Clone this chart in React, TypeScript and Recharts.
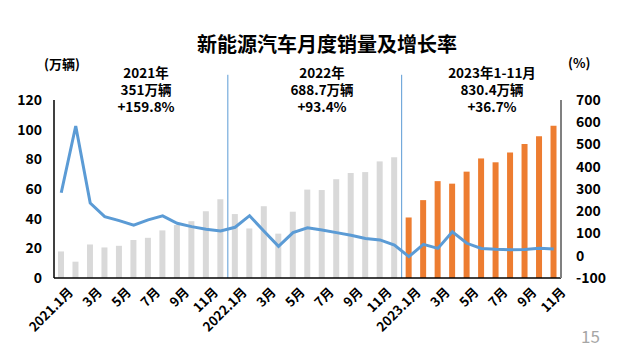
import { ComposedChart, Bar, Line, XAxis, YAxis, Cell, ReferenceLine } from "recharts";

const years = [2021, 2022, 2023];
const monthsPerYear = [12, 12, 11];

// 新能源汽车月度销量（万辆）
const sales = [
  17.9, 11.0, 22.6, 20.6, 21.7, 25.6, 27.1, 32.1, 35.7, 38.3, 45.0, 53.1,
  43.1, 33.4, 48.4, 29.9, 44.7, 59.6, 59.3, 66.6, 70.8, 71.4, 78.6, 81.4,
  40.8, 52.5, 65.3, 63.6, 71.7, 80.6, 78.0, 84.6, 90.4, 95.6, 102.6,
];

// 同比增长率（%）
const growth = [
  283, 583, 237, 176, 158, 137, 161, 179, 146, 131, 119, 111,
  128, 180, 110, 42, 104, 126, 116, 104, 92, 78, 71, 48,
  -4, 51, 33, 108, 56, 33, 29, 27, 28, 34, 30,
];

const leftTicks = [0, 20, 40, 60, 80, 100, 120];
const rightTicks = [-100, 0, 100, 200, 300, 400, 500, 600, 700];

const yearNotes = [
  { lines: ["2021年", "351万辆", "+159.8%"], center: 146 },
  { lines: ["2022年", "688.7万辆", "+93.4%"], center: 322 },
  { lines: ["2023年1-11月", "830.4万辆", "+36.7%"], center: 492 },
];

const data: any[] = [];
years.forEach((y, yi) => {
  for (let m = 1; m <= monthsPerYear[yi]; m++) {
    const i = data.length;
    data.push({
      idx: i + 0.5,
      year: y,
      label: m === 1 ? `${y}.1月` : `${m}月`,
      sales: sales[i],
      growth: growth[i],
    });
  }
});

// boundaries between years on the hidden numeric axis
const dividers = [12, 24];

const FONT = '"Noto Sans CJK SC", "Noto Sans", sans-serif';

const XTick = ({ x, y, payload }: any) => (
  <text
    x={x}
    y={y}
    transform={`rotate(-45, ${x}, ${y})`}
    textAnchor="end"
    dx={4}
    dy={14}
    fontSize={13}
    fontWeight={700}
    fill="#000"
    fontFamily={FONT}
  >
    {payload.value}
  </text>
);

export default function App() {
  return (
    <div style={{ position: "absolute", left: 0, top: 0, width: 632, height: 353, background: "#fff", fontFamily: FONT }}>
      <div style={{ position: "absolute", left: 0, top: 0 }}>
        <ComposedChart width={632} height={353} data={data} margin={{ top: 100, right: 0, bottom: 0, left: 0 }}>
          <XAxis
            dataKey="label"
            xAxisId="cat"
            interval={1}
            tick={<XTick />}
            tickLine={false}
            axisLine={{ stroke: "#000", strokeWidth: 1.5 }}
            height={75}
          />
          <XAxis dataKey="idx" xAxisId="num" type="number" domain={[0, 35]} hide allowDataOverflow />
          <YAxis
            yAxisId="left"
            domain={[0, 120]}
            ticks={leftTicks}
            width={54}
            tickLine={false}
            axisLine={{ stroke: "#000", strokeWidth: 1.5 }}
            tick={{ fill: "#000", fontSize: 14, fontWeight: 700, fontFamily: FONT }}
            tickMargin={6}
          />
          <YAxis
            yAxisId="right"
            orientation="right"
            domain={[-100, 700]}
            ticks={rightTicks}
            width={71}
            tickLine={false}
            axisLine={{ stroke: "#808080", strokeWidth: 2 }}
            tick={{ fill: "#000", fontSize: 14, fontWeight: 700, fontFamily: FONT }}
            tickMargin={9}
          />
          <Bar dataKey="sales" xAxisId="cat" yAxisId="left" barSize={6} isAnimationActive={false}>
            {data.map((d) => (
              <Cell key={d.label + d.idx} fill={d.year === 2023 ? "#ed7d31" : "#d9d9d9"} />
            ))}
          </Bar>
          <Line
            dataKey="growth"
            xAxisId="cat"
            yAxisId="right"
            stroke="#5b9bd5"
            strokeWidth={3}
            dot={false}
            type="linear"
            isAnimationActive={false}
          />
          {dividers.map((d) => (
            <ReferenceLine
              key={d}
              xAxisId="num"
              yAxisId="left"
              segment={[{ x: d, y: 0 }, { x: d, y: 137 }]}
              stroke="#5b9bd5"
              strokeWidth={1}
              ifOverflow="visible"
            />
          ))}
        </ComposedChart>
      </div>

      <div style={{ position: "absolute", left: 0, width: 654, top: 29, textAlign: "center", fontSize: 20, fontWeight: 700, color: "#000" }}>
        新能源汽车月度销量及增长率
      </div>
      <div style={{ position: "absolute", left: 44, top: 54, fontSize: 13, fontWeight: 700 }}>(万辆)</div>
      <div style={{ position: "absolute", left: 568, top: 53, fontSize: 13, fontWeight: 700 }}>(%)</div>
      {yearNotes.map((n) => (
        <div
          key={n.lines[0]}
          style={{
            position: "absolute",
            left: n.center - 80,
            width: 160,
            top: 64,
            textAlign: "center",
            fontSize: 13.5,
            fontWeight: 700,
            lineHeight: "17px",
          }}
        >
          {n.lines.map((l) => (
            <div key={l}>{l}</div>
          ))}
        </div>
      ))}
      <div style={{ position: "absolute", left: 581, top: 323, fontSize: 17, color: "#a6a6a6" }}>15</div>
    </div>
  );
}
